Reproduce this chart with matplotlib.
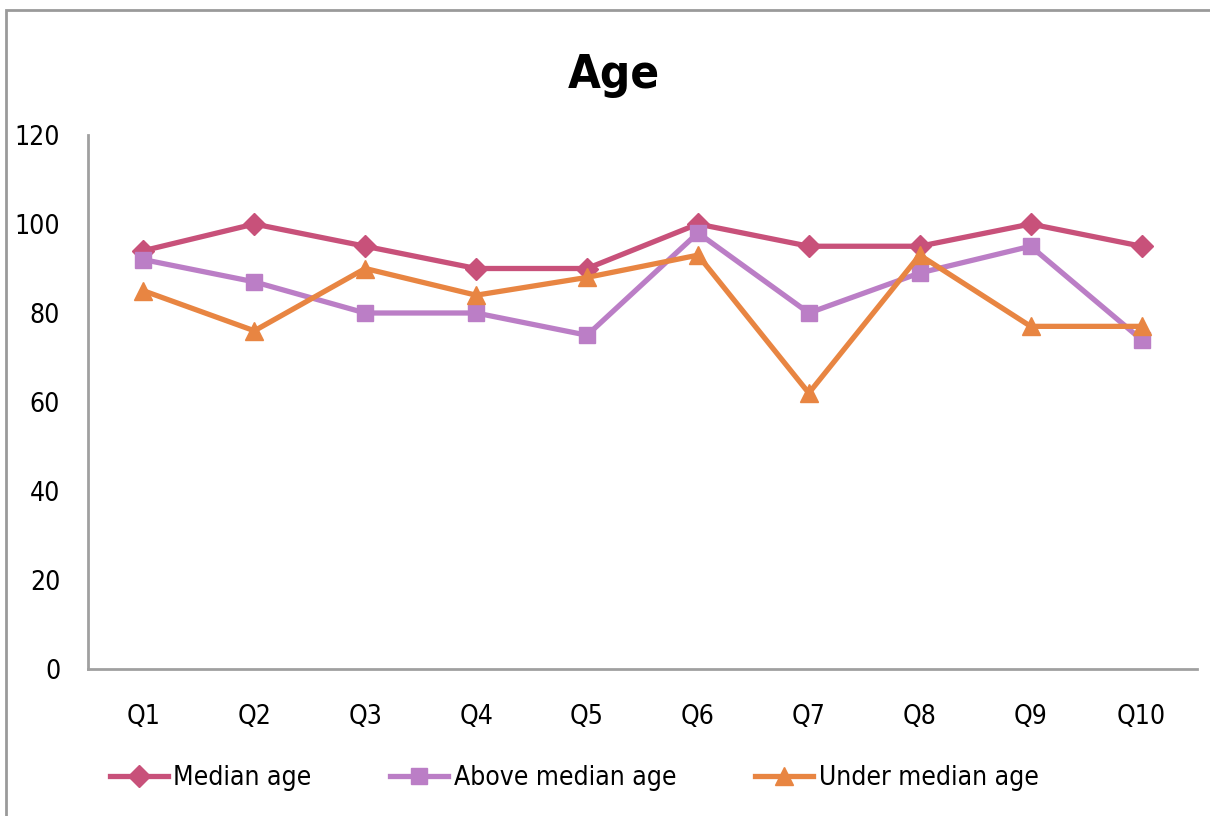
import matplotlib
matplotlib.use("Agg")
import matplotlib.pyplot as plt
from matplotlib import font_manager
from matplotlib.patches import Rectangle

categories = ["Q1", "Q2", "Q3", "Q4", "Q5", "Q6", "Q7", "Q8", "Q9", "Q10"]
median_age = [94, 100, 95, 90, 90, 100, 95, 95, 100, 95]
above_median_age = [92, 87, 80, 80, 75, 98, 80, 89, 95, 74]
under_median_age = [85, 76, 90, 84, 88, 93, 62, 93, 77, 77]
y_ticks = [0, 20, 40, 60, 80, 100, 120]

# prefer a condensed face when one is installed
condensed = [f for f in font_manager.fontManager.ttflist
             if f.name == "DejaVu Sans" and "ondensed" in str(f.stretch) + f.fname]
plt.rcParams["font.family"] = ["DejaVu Sans"]
if condensed:
    plt.rcParams["font.stretch"] = "condensed"

fig = plt.figure(figsize=(12.1, 8.16), dpi=100)
fig.patch.set_facecolor("white")

# outer chart-area frame
fig.add_artist(Rectangle((6 / 1210, -0.05), 1.1, (816 - 10) / 816 + 0.05,
                         transform=fig.transFigure, fill=False,
                         edgecolor="#9a9a9a", linewidth=2))

ax = fig.add_axes([88 / 1210, (816 - 669) / 816, (1197 - 88) / 1210, (669 - 135) / 816])

x = list(range(len(categories)))
ax.plot(x, median_age, color="#C8517A", lw=3.8, marker="D", ms=11, label="Median age")
ax.plot(x, above_median_age, color="#BB7EC6", lw=3.8, marker="s", ms=12, label="Above median age")
ax.plot(x, under_median_age, color="#E88542", lw=3.8, marker="^", ms=13, label="Under median age")

ax.set_xlim(-0.5, len(categories) - 0.5)
ax.set_ylim(0, 120)
ax.set_yticks(y_ticks)
ax.set_xticks(x)
ax.set_xticklabels(categories)
ax.tick_params(axis="both", length=0, labelsize=19)
ax.tick_params(axis="x", pad=25)
ax.tick_params(axis="y", pad=20)
for side in ("top", "right"):
    ax.spines[side].set_visible(False)
for side in ("left", "bottom"):
    ax.spines[side].set_color("#a0a0a0")
    ax.spines[side].set_linewidth(2)

fig.text(614 / 1210, 1 - 75 / 816, "Age", ha="center", va="center",
         fontsize=34, fontweight="bold")

fig.legend(loc="center", bbox_to_anchor=(574 / 1210, 1 - 778 / 816), ncol=3,
           frameon=False, fontsize=19, handlelength=2.2, handletextpad=0.2,
           columnspacing=3.0)

fig.savefig("out.png", dpi=100)
